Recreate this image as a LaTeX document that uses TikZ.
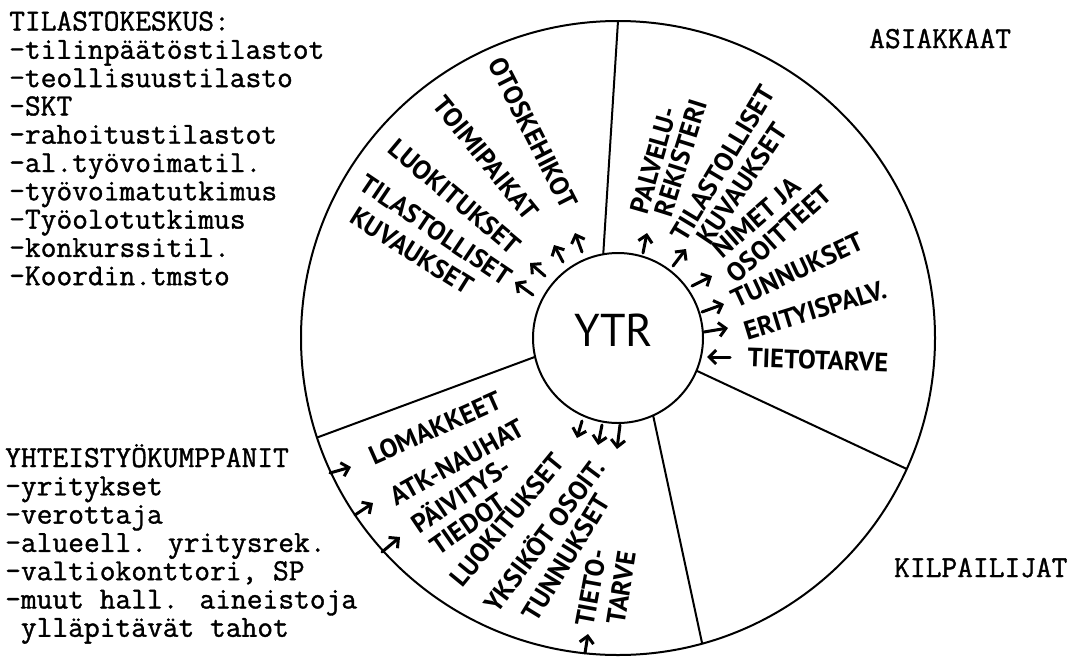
\documentclass[tikz,border=0pt]{standalone}
\usepackage{fontspec}
\newfontfamily\handfont{PT Sans}
\newfontfamily\twfont{Latin Modern Mono}[FakeBold=1.2]
\usetikzlibrary{arrows.meta,calc}
\tikzset{
  arrowline/.style={line width=3pt, line cap=round, line join=round},
  arrowtip/.tip={Straight Barb[length=7pt,width=14pt,line width=3pt]}
}
\begin{document}
\begin{tikzpicture}[x=1pt,y=-1pt,
  tw/.style={font=\twfont\bfseries\fontsize{30.6}{30}\selectfont, anchor=base west, inner sep=0pt},
  hand/.style={font=\handfont\bfseries\fontsize{26.5}{26.5}\selectfont, inner sep=0pt},
  ring/.style={line width=2pt}]
\useasboundingbox (0,0) rectangle (1071,662);
\fill[white] (0,0) rectangle (1071,662);

% circles
\coordinate (c) at (618,338);
\draw[ring] (c) circle (317pt);
\node[circle, draw, line width=2pt, minimum size=170pt, inner sep=0pt] (ytr) at (c) {};
\node[font=\handfont\fontsize{46}{46}\selectfont, inner sep=0pt] (ytrlabel) at (614,330) {YTR};

% sector dividers
\foreach \n/\ai/\ao in {s1/100/90, s2/-22.6/-24.4, s3/-65.6/-74.6, s4/192.8/198.3} {
  \coordinate (\n i) at ($(c)+(\ai:85pt)$);
  \coordinate (\n o) at ($(c)+(\ao:317pt)$);
  \draw[ring] (\n i) -- (\n o);
}

% typewriter texts, left top
\foreach \t [count=\k from 0] in {TILASTOKESKUS:, -tilinpäätöstilastot, -teollisuustilasto, -SKT, -rahoitustilastot, -al.työvoimatil., -työvoimatutkimus, -Työolotutkimus, -konkurssitil., -Koordin.tmsto} {
  \node[tw] (tk\k) at (9,{30.5+28.3*\k}) {\t};
}
% typewriter texts, left bottom
\foreach \t [count=\k from 0] in {YHTEISTYÖKUMPPANIT, -yritykset, -verottaja, -alueell. yritysrek., {-valtiokonttori, SP}, -muut hall. aineistoja, \ ylläpitävät tahot} {
  \node[tw] (yk\k) at (5,{467+28.3*\k}) {\t};
}
\node[tw] (asiakkaat) at (869,48) {ASIAKKAAT};
\node[tw] (kilpailijat) at (894,577) {KILPAILIJAT};

% upper-left sector labels
\node[hand, rotate=-63] (otos) at (533,133) {OTOSKEHIKOT};
\node[hand, rotate=-51] (toimi) at (486,158) {TOIMIPAIKAT};
\node[hand, rotate=-40] (luok1) at (455,197) {LUOKITUKSET};
\node[hand, rotate=-34] (tilas1) at (436,230) {TILASTOLLISET};
\node[hand, rotate=-32] (kuv1) at (412,251) {KUVAUKSET};

% upper-right sector labels
\node[hand, rotate=74] (palv) at (654,160) {PALVELU-};
\node[hand, rotate=72.5] (rek) at (681,158) {REKISTERI};
\node[hand, rotate=59] (tilas2) at (723,163) {TILASTOLLISET};
\node[hand, rotate=56] (kuv2) at (742,184) {KUVAUKSET};
\node[hand, rotate=41] (nimet) at (756.5,217.5) {NIMET JA};
\node[hand, rotate=42] (osoit) at (779,234) {OSOITTEET};
\node[hand, rotate=25] (tunn1) at (797,270) {TUNNUKSET};
\node[hand, rotate=17] (erit) at (815,310) {ERITYISPALV.};
\node[hand, rotate=-2] (tarve1) at (818,360) {TIETOTARVE};

% lower-left sector labels
\node[hand, rotate=24] (lomak) at (435,428) {LOMAKKEET};
\node[hand, rotate=29] (atk) at (457,462) {ATK-NAUHAT};
\node[hand, rotate=34] (paiv) at (460,494) {PÄIVITYS-};
\node[hand, rotate=35] (tied) at (468,524) {TIEDOT};
\node[hand, rotate=50.6] (luok2) at (507,520) {LUOKITUKSET};
\node[hand, rotate=53.3] (yksik) at (543,535) {YKSIKÖT OSOIT.};
\node[hand, rotate=58.5] (tunn2) at (566,558) {TUNNUKSET};
\node[hand, rotate=79.5] (tieto) at (591,588) {TIETO-};
\node[hand, rotate=81] (tarve2) at (621,588) {TARVE};

% arrows
\foreach \n/\tx/\ty/\hx/\hy in {
  a1/533/295/515/282, a2/545/276/530/263, a3/563/262/554/245, a4/582/252/575/233,
  b1/643/253/647/233, b2/673/266/686/249, b3/692/286/712/276, b4/702/312/724/304,
  b5/704/332/728/328, b6/730/357/707/357,
  c1/330/473/351/467, c2/355/515/373/503, c3/382/552/400/537,
  d1/582/421/577/438, d2/602/425/598/445, d3/620/425/617/449, d4/585/653/588/634} {
  \coordinate (\n t) at (\tx,\ty);
  \coordinate (\n h) at (\hx,\hy);
  \draw[arrowline, -arrowtip] (\n t) -- (\n h);
}
\end{tikzpicture}
\end{document}
